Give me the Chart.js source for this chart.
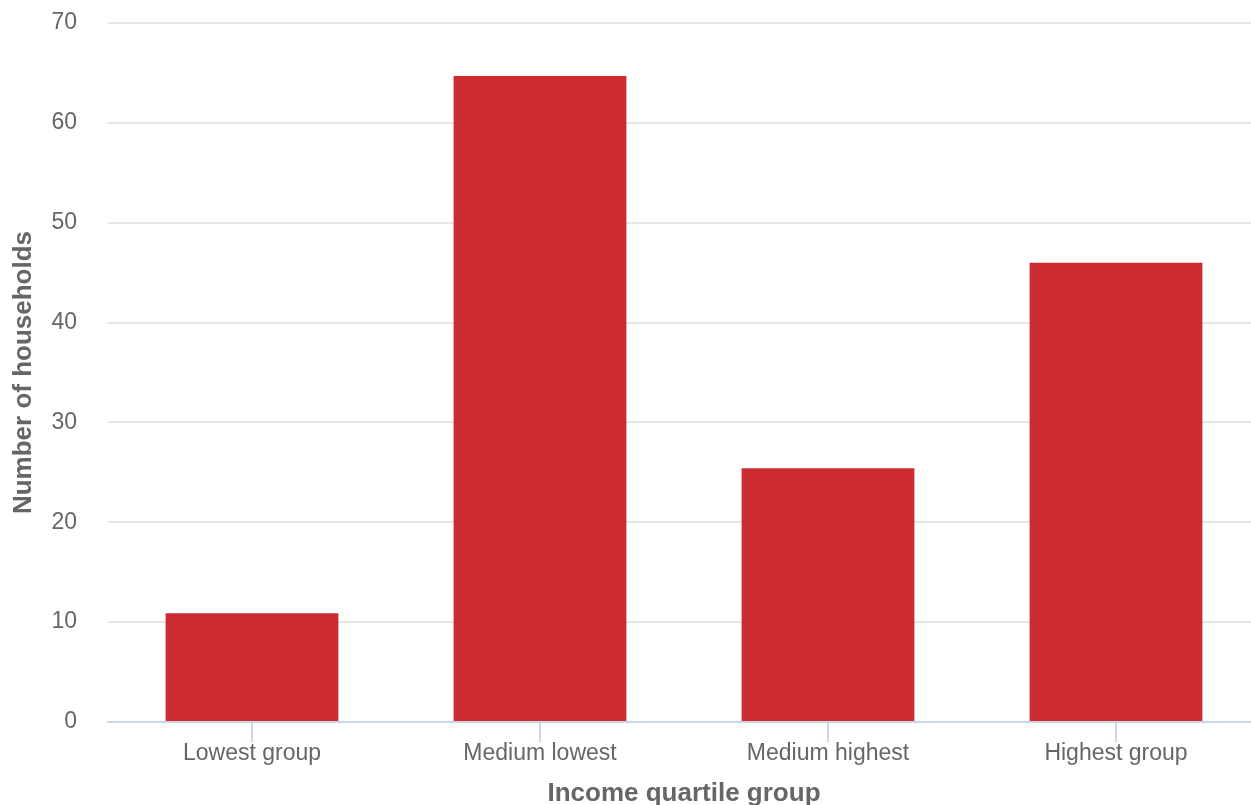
<!DOCTYPE html>
<html>
<head>
<meta charset="utf-8">
<script src="https://cdn.jsdelivr.net/npm/chart.js@4/dist/chart.umd.min.js"></script>
<style>
  html, body { margin: 0; padding: 0; background: #fff; overflow: hidden; }
  #wrap { position: relative; width: 1260px; height: 805px; }
</style>
</head>
<body>
<div id="wrap"><canvas id="c"></canvas></div>
<script>
const categories = ["Lowest group", "Medium lowest", "Medium highest", "Highest group"];
const households = [10.9, 64.7, 25.4, 46.0];
const yTicks = [0, 10, 20, 30, 40, 50, 60, 70];
const xTitle = "Income quartile group";
const yTitle = "Number of households";

const FONT = "'Liberation Sans', Arial, Helvetica, sans-serif";

new Chart(document.getElementById('c'), {
  type: 'bar',
  data: {
    labels: categories,
    datasets: [{
      label: yTitle,
      data: households,
      backgroundColor: '#cc2b2f',
      borderWidth: 0,
      categoryPercentage: 1.0,
      barPercentage: 0.6
    }]
  },
  options: {
    responsive: true,
    maintainAspectRatio: false,
    animation: false,
    layout: { padding: { top: 23, right: 0, bottom: 0, left: 0 } },
    plugins: {
      legend: { display: false },
      tooltip: { enabled: false }
    },
    scales: {
      x: {
        afterFit: (axis) => { axis.height = 83; },
        grid: {
          offset: false,
          drawOnChartArea: false,
          drawTicks: true,
          tickLength: 20,
          color: '#ccd6eb',
          lineWidth: 2
        },
        border: { display: true, color: '#ccd6eb', width: 2 },
        ticks: {
          color: '#666666',
          font: { family: FONT, size: 23 },
          padding: -2
        },
        title: {
          display: true,
          text: xTitle,
          color: '#666666',
          font: { family: FONT, size: 26, weight: 'bold', lineHeight: 0.85 },
          padding: { top: 0, bottom: 0 }
        }
      },
      y: {
        min: 0,
        max: 70,
        afterBuildTicks: (axis) => { axis.ticks = yTicks.map(v => ({ value: v })); },
        afterFit: (axis) => { axis.width = 108; axis.paddingTop = 0; axis.paddingBottom = 0; },
        grid: {
          color: '#e6e6e6',
          lineWidth: 2,
          drawTicks: false
        },
        border: { display: false },
        ticks: {
          color: '#666666',
          font: { family: FONT, size: 23 },
          padding: 31
        },
        title: {
          display: true,
          text: yTitle,
          color: '#666666',
          font: { family: FONT, size: 26, weight: 'bold' },
          padding: { top: 8, bottom: 0 }
        }
      }
    }
  }
});
</script>
</body>
</html>
